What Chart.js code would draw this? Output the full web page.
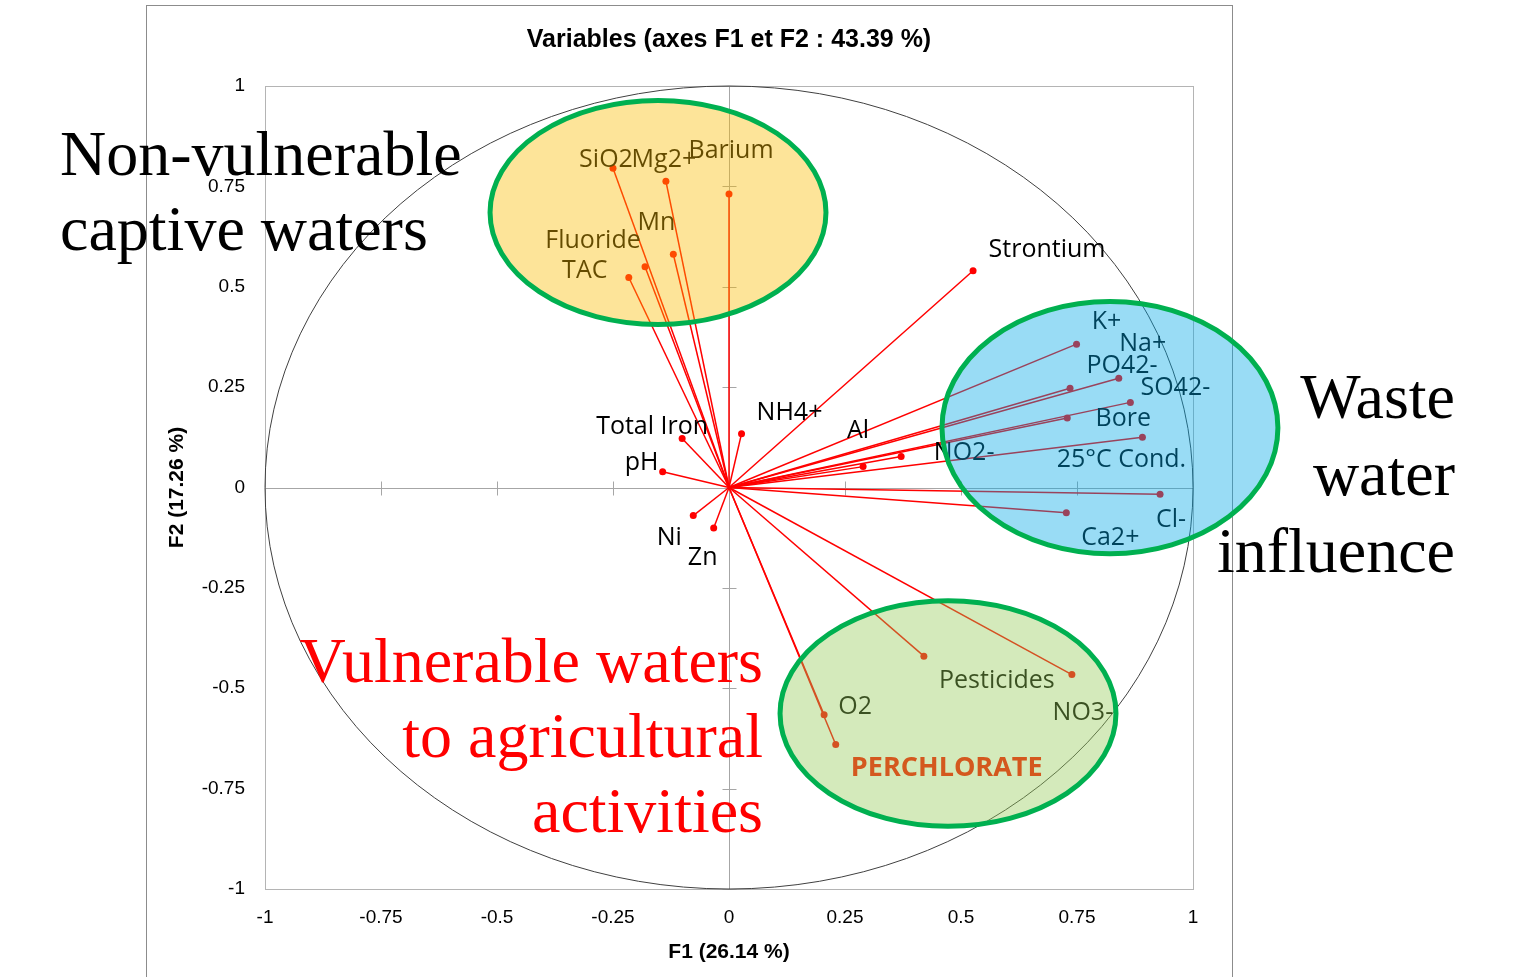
<!DOCTYPE html>
<html>
<head>
<meta charset="utf-8">
<script src="https://cdn.jsdelivr.net/npm/chart.js@4"></script>
<style>
  html, body { margin: 0; padding: 0; background: #fff; }
  #wrap { width: 1532px; height: 977px; }
</style>
</head>
<body>
<div id="wrap"><canvas id="graficoPCA"></canvas></div>
<script>
// variables and their loadings on F1 / F2
const variables = ["SiO2", "Mg2+", "Barium", "Mn", "Fluoride", "TAC", "Strontium",
    "K+", "Na+", "PO42-", "SO42-", "Bore", "25°C Cond.", "Cl-", "Ca2+",
    "NO2-", "Al", "NH4+", "Total Iron", "pH", "Ni", "Zn",
    "Pesticides", "NO3-", "O2", "PERCHLORATE"];
const f1 = [-0.250, -0.136, 0.000, -0.120, -0.181, -0.216, 0.526,
    0.749, 0.840, 0.735, 0.865, 0.729, 0.891, 0.929, 0.727,
    0.371, 0.289, 0.027, -0.101, -0.143, -0.077, -0.033,
    0.420, 0.739, 0.205, 0.230];
const f2 = [0.795, 0.763, 0.731, 0.581, 0.550, 0.523, 0.540,
    0.357, 0.272, 0.247, 0.212, 0.173, 0.125, -0.017, -0.063,
    0.077, 0.052, 0.134, 0.122, 0.039, -0.070, -0.101,
    -0.420, -0.466, -0.566, -0.640];
const tickValues = [-1, -0.75, -0.5, -0.25, 0, 0.25, 0.5, 0.75, 1];

// label placement (pixel offset from the point), same order as variables
const labelOffsets = [[-7,-8], [-2,-21], [2,-43], [-17,-31], [-52,-26], [-44,-7], [74,-21],
    [30,-22], [24,-34], [52,-22], [45,-15], [56,1], [-21,23], [11,26], [44,25],
    [63,-4], [-5,-36], [48,-21], [-30,-12], [-21,-9], [-24,22], [-11,30],
    [73,25], [11,38], [31,-8], [111,24]];

// group highlights: centre and radii in F1/F2 units
const groups = [
    { cx: -0.153, cy: 0.685, rx: 0.362, ry: 0.279, fill: "rgba(250,187,0,0.4)" },
    { cx: 0.821, cy: 0.149, rx: 0.362, ry: 0.314, fill: "rgba(0,167,230,0.4)" },
    { cx: 0.472, cy: -0.563, rx: 0.362, ry: 0.281, fill: "rgba(148,203,85,0.4)" }
];

const axisFont = "'Liberation Sans', Arial, sans-serif";

const datasets = variables.map((v, i) => ({
    label: v,
    data: [{ x: 0, y: 0 }, { x: f1[i], y: f2[i] }],
    showLine: true,
    borderColor: "#ff0000",
    backgroundColor: "#ff0000",
    borderWidth: 1.5,
    pointRadius: [0, 3.5],
    pointBorderWidth: 0
}));

const decor = {
    id: "decor",
    beforeDraw(chart) {
        const ctx = chart.ctx, a = chart.chartArea;
        ctx.save();
        ctx.strokeStyle = "#8c8c8c";
        ctx.lineWidth = 1;
        ctx.strokeRect(146.5, 5.5, 1086, 1010);
        ctx.strokeStyle = "#b4b4b4";
        ctx.strokeRect(a.left + 0.5, a.top + 0.5, a.right - a.left, a.bottom - a.top);
        // title
        ctx.fillStyle = "#000";
        ctx.font = "bold 25px " + axisFont;
        ctx.textAlign = "center";
        ctx.textBaseline = "middle";
        ctx.fillText("Variables (axes F1 et F2 : 43.39 %)", (a.left + a.right) / 2, 40);
        ctx.restore();
    },
    beforeDatasetsDraw(chart) {
        const ctx = chart.ctx, xs = chart.scales.x, ys = chart.scales.y;
        const x0 = Math.round(xs.getPixelForValue(0)) + 0.5;
        const y0 = Math.round(ys.getPixelForValue(0)) + 0.5;
        ctx.save();
        ctx.strokeStyle = "#a6a6a6";
        ctx.lineWidth = 1;
        ctx.beginPath();
        ctx.moveTo(xs.left, y0); ctx.lineTo(xs.right, y0);
        ctx.moveTo(x0, ys.top); ctx.lineTo(x0, ys.bottom);
        tickValues.forEach(t => {
            const px = Math.round(xs.getPixelForValue(t)) + 0.5;
            const py = Math.round(ys.getPixelForValue(t)) + 0.5;
            ctx.moveTo(px, y0 - 7); ctx.lineTo(px, y0 + 7);
            ctx.moveTo(x0 - 7, py); ctx.lineTo(x0 + 7, py);
        });
        ctx.stroke();
        // correlation circle
        ctx.strokeStyle = "#404040";
        ctx.beginPath();
        ctx.ellipse(xs.getPixelForValue(0), ys.getPixelForValue(0),
            xs.getPixelForValue(1) - xs.getPixelForValue(0),
            ys.getPixelForValue(0) - ys.getPixelForValue(1), 0, 0, Math.PI * 2);
        ctx.stroke();
        ctx.restore();
    },
    afterDatasetsDraw(chart) {
        const ctx = chart.ctx, xs = chart.scales.x, ys = chart.scales.y;
        const ux = xs.getPixelForValue(1) - xs.getPixelForValue(0);
        const uy = ys.getPixelForValue(0) - ys.getPixelForValue(1);
        ctx.save();
        ctx.textAlign = "center";
        ctx.textBaseline = "middle";
        ctx.font = "25px 'Open Sans', sans-serif";
        ctx.fillStyle = "#000";
        variables.forEach((v, i) => {
            if (v === "PERCHLORATE") return;
            const px = xs.getPixelForValue(f1[i]) + labelOffsets[i][0];
            const py = ys.getPixelForValue(f2[i]) + labelOffsets[i][1];
            ctx.fillText(v, px, py);
        });
        // highlighted groups
        groups.forEach(g => {
            ctx.beginPath();
            ctx.ellipse(xs.getPixelForValue(g.cx), ys.getPixelForValue(g.cy),
                g.rx * ux, g.ry * uy, 0, 0, Math.PI * 2);
            ctx.fillStyle = g.fill;
            ctx.fill();
            ctx.strokeStyle = "#00b050";
            ctx.lineWidth = 5;
            ctx.stroke();
        });
        const k = variables.indexOf("PERCHLORATE");
        ctx.font = "bold 27px 'Open Sans', sans-serif";
        ctx.fillStyle = "#d4581e";
        ctx.fillText(variables[k], xs.getPixelForValue(f1[k]) + labelOffsets[k][0],
            ys.getPixelForValue(f2[k]) + labelOffsets[k][1]);

        // big annotations
        ctx.font = "64px 'Liberation Serif', 'Times New Roman', serif";
        ctx.textBaseline = "alphabetic";
        ctx.fillStyle = "#000";
        ctx.textAlign = "left";
        ctx.fillText("Non-vulnerable", 60, 175);
        ctx.fillText("captive waters", 60, 250);
        ctx.textAlign = "right";
        ctx.fillText("Waste", 1455, 418);
        ctx.fillText("water", 1455, 495);
        ctx.fillText("influence", 1455, 572);
        ctx.fillStyle = "#ff0000";
        ctx.fillText("Vulnerable waters", 763, 682);
        ctx.fillText("to agricultural", 763, 757);
        ctx.fillText("activities", 763, 832);
        ctx.restore();
    }
};

new Chart(document.getElementById("graficoPCA"), {
    type: "scatter",
    data: { datasets },
    options: {
        responsive: true,
        maintainAspectRatio: false,
        animation: false,
        layout: { padding: { left: 146, right: 339, top: 86, bottom: 0 } },
        plugins: {
            legend: { display: false },
            tooltip: { enabled: false }
        },
        scales: {
            x: {
                type: "linear",
                min: -1, max: 1,
                grid: { display: false, drawTicks: false },
                border: { display: false },
                afterFit: s => { s.height = 88; },
                ticks: {
                    stepSize: 0.25, autoSkip: false, maxRotation: 0, padding: 17,
                    color: "#000",
                    font: { size: 19, family: axisFont },
                    callback: v => String(v)
                },
                title: {
                    display: true, text: "F1 (26.14 %)", color: "#000",
                    padding: { top: 0, bottom: 12 },
                    font: { size: 21, weight: "bold", family: axisFont }
                }
            },
            y: {
                type: "linear",
                min: -1, max: 1,
                grid: { display: false, drawTicks: false },
                border: { display: false },
                afterFit: s => { s.width = 119; },
                ticks: {
                    stepSize: 0.25, autoSkip: false, padding: 20,
                    color: "#000",
                    font: { size: 19, family: axisFont },
                    callback: v => String(v)
                },
                title: {
                    display: true, text: "F2 (17.26 %)", color: "#000",
                    padding: { top: 19, bottom: 0 },
                    font: { size: 21, weight: "bold", family: axisFont }
                }
            }
        }
    },
    plugins: [decor]
});
</script>
</body>
</html>
